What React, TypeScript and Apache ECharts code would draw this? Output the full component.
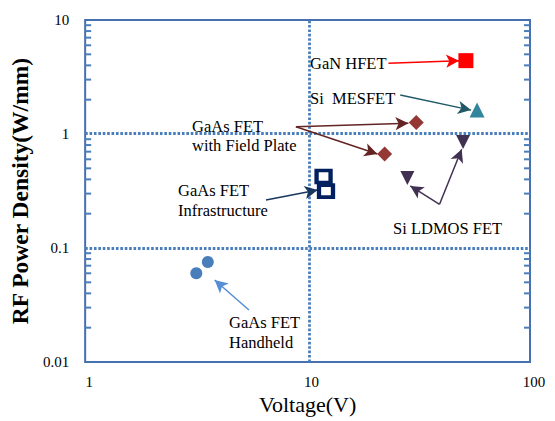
import React, { useEffect, useRef } from "react";
import * as echarts from "echarts";

// ---- data (Voltage V, RF power density W/mm) ----
const ganHfet = [[51.5, 4.4]];
const siMesfet = [[57.8, 1.62]];
const gaasFieldPlate = [[30.8, 1.26], [22.2, 0.668]];
const siLdmos = [[28.1, 0.411], [50.0, 0.851]];
const gaasInfra = [[11.8, 0.424], [12.1, 0.316]];
const gaasHandheld = [[3.16, 0.06], [3.56, 0.0753]];

// reference lines
const hLines = [1.014, 0.104];
const vLines = [10.15];

// minor ticks on the log y axis
const minorTickValues = [
  0.02, 0.03, 0.04, 0.05, 0.06, 0.07, 0.08, 0.09,
  0.2, 0.3, 0.4, 0.5, 0.6, 0.7, 0.8, 0.9,
  2, 3, 4, 5, 6, 7, 8, 9,
];

// annotation arrows in data coordinates [from, to]
const ganArrow = [[[23.1, 4.17], [48.0, 4.4]]];
const mesfetArrow = [[[26.1, 2.2], [54.3, 1.62]]];
const fieldPlateArrows = [
  [[8.86, 1.159], [28.4, 1.241]],
  [[8.86, 1.159], [20.6, 0.668]],
];
const infraArrow = [[[6.5, 0.2636], [11.1, 0.323]]];
const ldmosArrows = [
  [[39.2, 0.2416], [28.95, 0.35]],
  [[39.2, 0.2416], [49.3, 0.734]],
];
const handheldArrow = [[[5.45, 0.0286], [3.82, 0.0524]]];

const xTickLabels = ["1", "10", "100"];
const yTickLabels = ["0.01", "0.1", "1", "10"];

const FONT = "Liberation Serif, serif";

function arrowMark(pairs: number[][][], color: string) {
  return {
    silent: true,
    symbol: ["none", "arrow"],
    symbolSize: [10, 13],
    label: { show: false },
    lineStyle: { color, width: 1.5, type: "solid", opacity: 1 },
    emphasis: { disabled: true },
    data: pairs.map((p) => [{ coord: p[0] }, { coord: p[1] }]),
  };
}

function note(x: number, y: number, text: string, lineHeight = 20) {
  return {
    type: "text",
    x,
    y,
    style: {
      text,
      fontFamily: FONT,
      fontSize: 16.5,
      lineHeight,
      fill: "#000",
      verticalAlign: "middle",
      align: "left",
    },
  };
}

export default function App() {
  const ref = useRef<HTMLDivElement>(null);
  useEffect(() => {
    if (!ref.current) return;
    const chart = echarts.init(ref.current, null, { renderer: "svg" });
    const dotted = { color: "#4a7ebb", width: 2.8, type: [2.6, 1.8] as any, opacity: 1 };
    const option: any = {
      animation: false,
      textStyle: { fontFamily: FONT },
      grid: {
        left: 83,
        top: 20,
        right: 25,
        bottom: 59,
        show: true,
        borderColor: "#4670b0",
        borderWidth: 2,
        backgroundColor: "transparent",
      },
      xAxis: {
        type: "log",
        min: 1,
        max: 100,
        logBase: 10,
        name: "Voltage(V)",
        nameLocation: "middle",
        nameGap: 31,
        nameTextStyle: { fontFamily: FONT, fontSize: 22, color: "#000" },
        axisLine: { show: false },
        axisTick: { show: false },
        splitLine: { show: false },
        axisLabel: {
          fontFamily: FONT,
          fontSize: 15,
          color: "#000",
          margin: 12,
          padding: [0, 0, 0, 8],
          formatter: (v: number) => {
            const i = Math.round(Math.log10(v));
            return xTickLabels[i] ?? "";
          },
        },
      },
      yAxis: {
        type: "log",
        min: 0.01,
        max: 10,
        logBase: 10,
        name: "RF Power Density(W/mm)",
        nameLocation: "middle",
        nameGap: 51,
        nameTextStyle: {
          fontFamily: FONT,
          fontSize: 23.5,
          fontWeight: "bold",
          color: "#000",
        },
        axisLine: { show: false },
        axisTick: { show: false },
        splitLine: { show: false },
        axisLabel: {
          fontFamily: FONT,
          fontSize: 15,
          color: "#000",
          margin: 16,
          formatter: (v: number) => {
            const i = Math.round(Math.log10(v)) + 2;
            return yTickLabels[i] ?? "";
          },
        },
      },
      series: [
        {
          type: "custom",
          name: "ticks",
          silent: true,
          clip: false,
          data: minorTickValues.map((v) => [1, v]),
          renderItem: (params: any, api: any) => {
            const v = api.value(1);
            const l = api.coord([1, v]);
            const r = api.coord([100, v]);
            const st = { stroke: "#4a7ebb", lineWidth: 2 };
            return {
              type: "group",
              children: [
                { type: "line", shape: { x1: l[0], y1: l[1], x2: l[0] + 6, y2: l[1] }, style: st },
                { type: "line", shape: { x1: r[0], y1: r[1], x2: r[0] - 6, y2: r[1] }, style: st },
              ],
            };
          },
          z: 1,
        },
        {
          type: "line",
          name: "refLines",
          data: [],
          markLine: {
            silent: true,
            symbol: ["none", "none"],
            label: { show: false },
            lineStyle: dotted,
            emphasis: { disabled: true },
            data: [
              ...hLines.map((v) => ({ yAxis: v })),
              ...vLines.map((v) => ({ xAxis: v })),
            ],
          },
          z: 2,
        },
        {
          type: "scatter",
          name: "GaN HFET",
          data: ganHfet,
          symbol: "rect",
          symbolSize: 15,
          itemStyle: { color: "#ff0000", opacity: 1 },
          markLine: arrowMark(ganArrow, "#ff0000"),
          z: 5,
        },
        {
          type: "scatter",
          name: "Si MESFET",
          data: siMesfet,
          symbol: "triangle",
          symbolSize: 15,
          itemStyle: { color: "#31859c", opacity: 1 },
          markLine: arrowMark(mesfetArrow, "#215968"),
          z: 5,
        },
        {
          type: "scatter",
          name: "GaAs FET with Field Plate",
          data: gaasFieldPlate,
          symbol: "diamond",
          symbolSize: 15,
          itemStyle: { color: "#953735", opacity: 1 },
          markLine: arrowMark(fieldPlateArrows, "#632523"),
          z: 5,
        },
        {
          type: "scatter",
          name: "Si LDMOS FET",
          data: siLdmos,
          symbol: "triangle",
          symbolRotate: 180,
          symbolSize: [14, 14],
          itemStyle: { color: "#403152", opacity: 1 },
          markLine: arrowMark(ldmosArrows, "#403152"),
          z: 5,
        },
        {
          type: "scatter",
          name: "GaAs FET Infrastructure",
          data: gaasInfra,
          symbol: "rect",
          symbolSize: [14, 12],
          itemStyle: { color: "#ffffff", borderColor: "#002060", borderWidth: 4, opacity: 1 },
          markLine: arrowMark(infraArrow, "#17375e"),
          z: 5,
        },
        {
          type: "scatter",
          name: "GaAs FET Handheld",
          data: gaasHandheld,
          symbol: "circle",
          symbolSize: 12,
          itemStyle: { color: "#4a7ebb", opacity: 1 },
          markLine: arrowMark(handheldArrow, "#558ed5"),
          z: 5,
        },
      ],
      graphic: [
        note(310, 63, "GaN HFET"),
        note(310, 98, "Si  MESFET"),
        note(192, 135.5, "GaAs FET\nwith Field Plate", 19),
        note(178, 200, "GaAs FET\nInfrastructure", 20),
        note(393, 228, "Si LDMOS FET"),
        note(229, 332, "GaAs FET\nHandheld", 20),
      ],
    };
    chart.setOption(option);
    return () => chart.dispose();
  }, []);
  return (
    <div
      ref={ref}
      style={{ position: "absolute", left: 0, top: 0, width: 555, height: 421, background: "#fff" }}
    />
  );
}
